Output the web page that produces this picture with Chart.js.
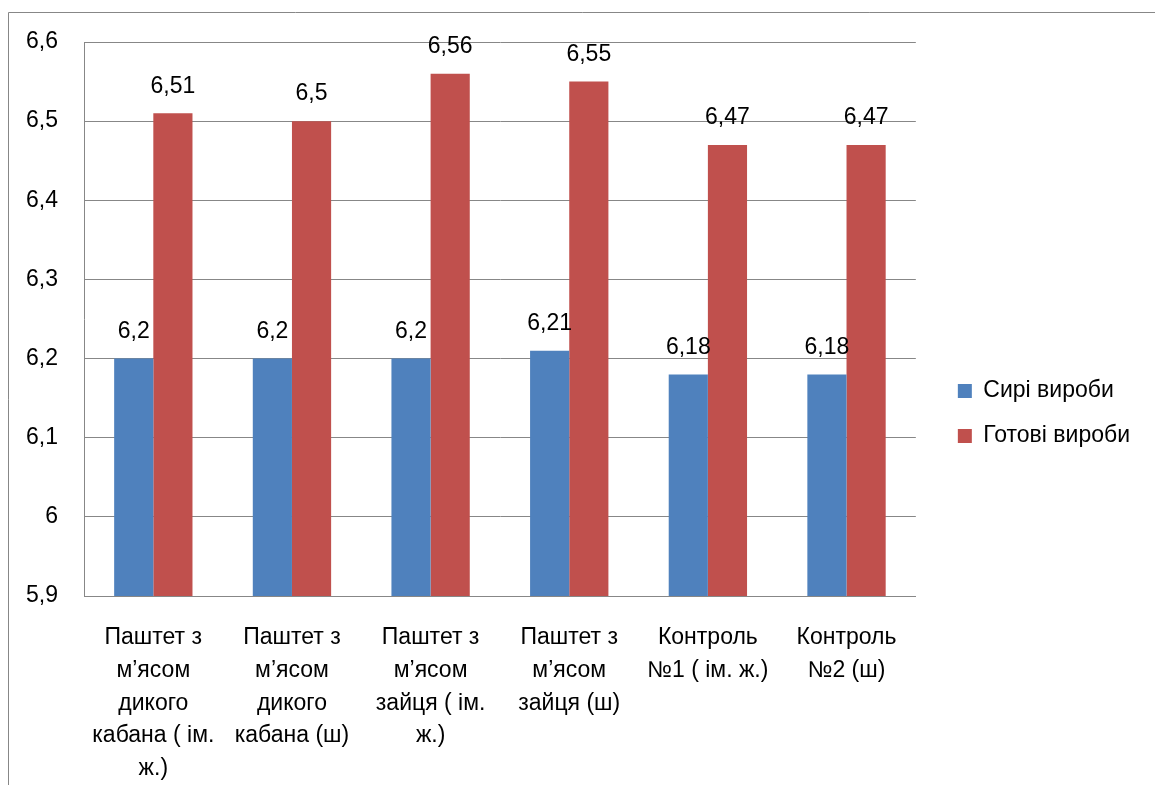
<!DOCTYPE html>
<html>
<head>
<meta charset="utf-8">
<script src="https://cdn.jsdelivr.net/npm/chart.js@4/dist/chart.umd.min.js"></script>
<style>
  html, body { margin: 0; padding: 0; background: #fff; }
  #wrap { width: 1155px; height: 785px; }
</style>
</head>
<body>
<div id="wrap"><canvas id="c" width="1155" height="785"></canvas></div>
<script>
// categories (already split into lines like the original)
const categories = [
  ['Паштет з', 'м’ясом', 'дикого', 'кабана ( ім.', 'ж.)'],
  ['Паштет з', 'м’ясом', 'дикого', 'кабана (ш)'],
  ['Паштет з', 'м’ясом', 'зайця ( ім.', 'ж.)'],
  ['Паштет з', 'м’ясом', 'зайця (ш)'],
  ['Контроль', '№1 ( ім. ж.)'],
  ['Контроль', '№2 (ш)']
];
const rawValues = [6.2, 6.2, 6.2, 6.21, 6.18, 6.18];
const readyValues = [6.51, 6.5, 6.56, 6.55, 6.47, 6.47];
const seriesNames = ['Сирі вироби', 'Готові вироби'];

const FONT = 'Liberation Sans, Arial, sans-serif';
const FS = 23;
const GRID = '#878787';
const fmt = v => String(v).replace('.', ',');

// value labels above each bar
const valueLabels = {
  id: 'valueLabels',
  afterDatasetsDraw(chart) {
    const ctx = chart.ctx;
    ctx.save();
    ctx.font = FS + 'px ' + FONT;
    ctx.fillStyle = '#000';
    ctx.textAlign = 'center';
    ctx.textBaseline = 'middle';
    chart.data.datasets.forEach((ds, i) => {
      chart.getDatasetMeta(i).data.forEach((bar, j) => {
        ctx.fillText(fmt(ds.data[j]), bar.x, bar.y - 27);
      });
    });
    ctx.restore();
  }
};

// outer chart frame (left and top edges visible)
const frame = {
  id: 'frame',
  beforeDraw(chart) {
    const ctx = chart.ctx;
    ctx.save();
    ctx.strokeStyle = GRID;
    ctx.lineWidth = 1;
    ctx.beginPath();
    ctx.moveTo(8.5, 790);
    ctx.lineTo(8.5, 12.5);
    ctx.lineTo(1160, 12.5);
    ctx.stroke();
    ctx.restore();
  }
};

// leave a wider gap between plot area and legend
const legendGap = {
  id: 'legendGap',
  afterLayout(chart) {
    if (chart.legend) {
      chart.legend.left += 20;
      chart.legend.right += 20;
    }
  }
};

new Chart(document.getElementById('c'), {
  type: 'bar',
  data: {
    labels: categories,
    datasets: [
      { label: seriesNames[0], data: rawValues, backgroundColor: '#4F81BD' },
      { label: seriesNames[1], data: readyValues, backgroundColor: '#C0504D' }
    ]
  },
  options: {
    responsive: false,
    animation: false,
    layout: { padding: { top: 42, left: 0, right: 35, bottom: 0 } },
    datasets: { bar: { categoryPercentage: 0.565, barPercentage: 1.0 } },
    scales: {
      x: {
        grid: { display: false, drawTicks: false },
        border: { display: true, color: GRID },
        ticks: {
          color: '#000',
          font: { family: FONT, size: FS, lineHeight: 1.43 },
          maxRotation: 0,
          autoSkip: false,
          padding: 25
        },
        afterFit(s) { s.height = 189; }
      },
      y: {
        min: 5.9,
        max: 6.6,
        grid: { color: GRID, drawTicks: false },
        border: { display: true, color: GRID },
        ticks: {
          stepSize: 0.1,
          color: '#000',
          font: { family: FONT, size: FS },
          padding: 26,
          callback: v => fmt(Math.round(v * 10) / 10)
        },
        afterFit(s) { s.width = 84; }
      }
    },
    plugins: {
      legend: {
        position: 'right',
        labels: {
          color: '#000',
          font: { family: FONT, size: FS },
          boxWidth: 14,
          boxHeight: 14,
          padding: 22
        }
      },
      tooltip: { enabled: false }
    }
  },
  plugins: [frame, legendGap, valueLabels]
});
</script>
</body>
</html>
